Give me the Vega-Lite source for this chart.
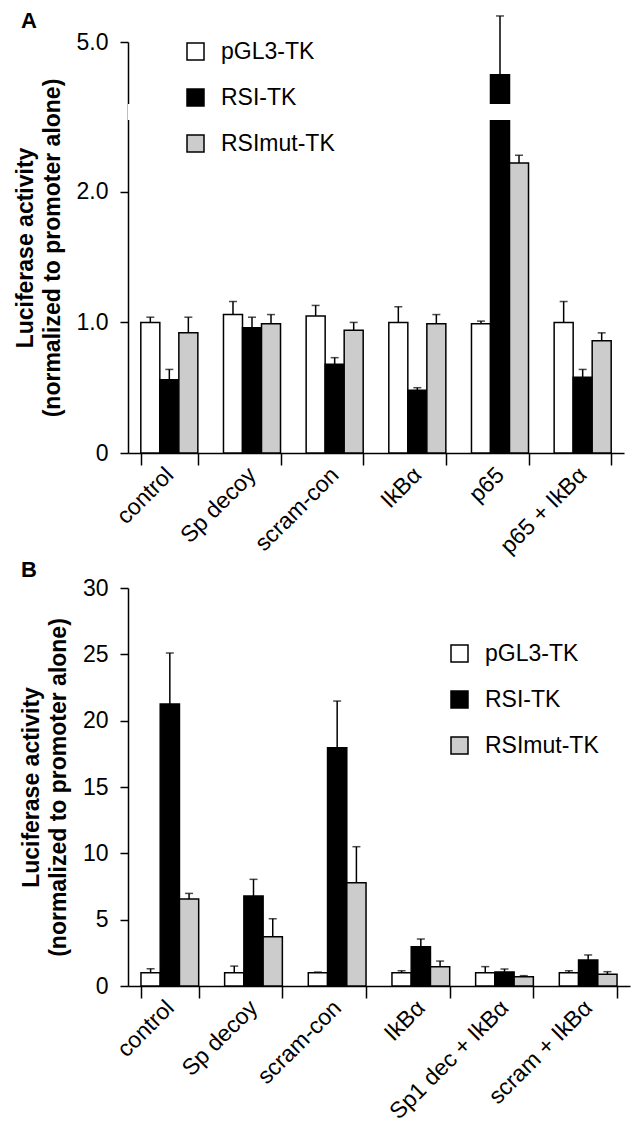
{
  "$schema": "https://vega.github.io/schema/vega-lite/v6.json",
  "padding": {"top": 10, "left": 14, "right": 5, "bottom": 5},
  "background": "white",
  "config": {
    "font": "Liberation Sans",
    "view": {"stroke": null},
    "axis": {
      "labelFont": "Liberation Sans", "labelFontSize": 23, "labelColor": "black",
      "titleFont": "Liberation Sans", "titleFontSize": 23, "titleColor": "black", "titleFontWeight": "bold",
      "domainColor": "black", "tickColor": "black", "domainWidth": 1.5, "tickWidth": 1.5, "grid": false
    },
    "legend": {
      "labelFont": "Liberation Sans", "labelFontSize": 23, "labelColor": "black",
      "symbolType": "square", "symbolSize": 289, "symbolStrokeColor": "black", "symbolStrokeWidth": 1.5,
      "rowPadding": 22, "labelOffset": 14, "padding": 0
    },
    "title": {"font": "Liberation Sans", "fontSize": 22, "fontWeight": "bold", "color": "black", "anchor": "start", "frame": "group"}
  },
  "datasets": {
    "a": [
      {"cond": "control", "series": "pGL3-TK", "value": 1.0, "hi": 1.04},
      {"cond": "control", "series": "RSI-TK", "value": 0.56, "hi": 0.64},
      {"cond": "control", "series": "RSImut-TK", "value": 0.92, "hi": 1.04},
      {"cond": "Sp decoy", "series": "pGL3-TK", "value": 1.06, "hi": 1.16},
      {"cond": "Sp decoy", "series": "RSI-TK", "value": 0.96, "hi": 1.04},
      {"cond": "Sp decoy", "series": "RSImut-TK", "value": 0.99, "hi": 1.06},
      {"cond": "scram-con", "series": "pGL3-TK", "value": 1.05, "hi": 1.13},
      {"cond": "scram-con", "series": "RSI-TK", "value": 0.68, "hi": 0.73},
      {"cond": "scram-con", "series": "RSImut-TK", "value": 0.94, "hi": 1.0},
      {"cond": "IkBα", "series": "pGL3-TK", "value": 1.0, "hi": 1.12},
      {"cond": "IkBα", "series": "RSI-TK", "value": 0.48, "hi": 0.5},
      {"cond": "IkBα", "series": "RSImut-TK", "value": 0.99, "hi": 1.06},
      {"cond": "p65", "series": "pGL3-TK", "value": 0.99, "hi": 1.01},
      {"cond": "p65", "series": "RSI-TK", "value": 3.94, "hi": 5.84},
      {"cond": "p65", "series": "RSImut-TK", "value": 2.22, "hi": 2.28},
      {"cond": "p65 + IkBα", "series": "pGL3-TK", "value": 1.0, "hi": 1.16},
      {"cond": "p65 + IkBα", "series": "RSI-TK", "value": 0.58, "hi": 0.64},
      {"cond": "p65 + IkBα", "series": "RSImut-TK", "value": 0.86, "hi": 0.92}
    ],
    "b": [
      {"cond": "control", "series": "pGL3-TK", "value": 1.0, "hi": 1.3},
      {"cond": "control", "series": "RSI-TK", "value": 21.25, "hi": 25.1},
      {"cond": "control", "series": "RSImut-TK", "value": 6.56, "hi": 6.98},
      {"cond": "Sp decoy", "series": "pGL3-TK", "value": 1.0, "hi": 1.5},
      {"cond": "Sp decoy", "series": "RSI-TK", "value": 6.78, "hi": 8.04},
      {"cond": "Sp decoy", "series": "RSImut-TK", "value": 3.72, "hi": 5.07},
      {"cond": "scram-con", "series": "pGL3-TK", "value": 1.0, "hi": 1.05},
      {"cond": "scram-con", "series": "RSI-TK", "value": 17.96, "hi": 21.48},
      {"cond": "scram-con", "series": "RSImut-TK", "value": 7.79, "hi": 10.5},
      {"cond": "IkBα", "series": "pGL3-TK", "value": 1.0, "hi": 1.15},
      {"cond": "IkBα", "series": "RSI-TK", "value": 2.96, "hi": 3.54},
      {"cond": "IkBα", "series": "RSImut-TK", "value": 1.46, "hi": 1.88},
      {"cond": "Sp1 dec + IkBα", "series": "pGL3-TK", "value": 1.0, "hi": 1.46},
      {"cond": "Sp1 dec + IkBα", "series": "RSI-TK", "value": 1.06, "hi": 1.28},
      {"cond": "Sp1 dec + IkBα", "series": "RSImut-TK", "value": 0.7, "hi": 0.78},
      {"cond": "scram + IkBα", "series": "pGL3-TK", "value": 1.0, "hi": 1.15},
      {"cond": "scram + IkBα", "series": "RSI-TK", "value": 1.96, "hi": 2.34},
      {"cond": "scram + IkBα", "series": "RSImut-TK", "value": 0.88, "hi": 1.08}
    ],
    "gap": [{"lo": 2.55, "hi": 3.0}]
  },
  "spacing": 0,
  "resolve": {"scale": {"x": "independent", "y": "independent", "xOffset": "independent"}, "legend": {"color": "independent"}},
  "vconcat": [
    {
      "width": 496, "height": 411,
      "title": {"text": "A", "dx": -107, "offset": -18},
      "layer": [
        {
          "data": {"name": "a"},
          "mark": {"type": "bar", "stroke": "black", "strokeWidth": 1.5},
          "encoding": {
            "x": {"field": "cond", "type": "nominal", "sort": null,
                  "scale": {"paddingInner": 0.31, "paddingOuter": 0.155},
                  "axis": {"title": null, "labelAngle": -45, "labelAlign": "right", "labelBaseline": "middle", "tickBand": "extent", "tickSize": 12, "labelPadding": 6}},
            "xOffset": {"field": "series", "type": "nominal", "sort": null, "scale": {"paddingInner": 0, "paddingOuter": 0}},
            "y": {"field": "value", "type": "quantitative", "stack": null,
                  "scale": {"domain": [0, 2.55, 3.0, 5.0], "range": [411, 78, 62, 0], "nice": false, "zero": false},
                  "axis": {"title": ["Luciferase activity", "(normalized to promoter alone)"], "values": [0, 1, 2, 5],
                           "labelExpr": "datum.value == 0 ? '0' : format(datum.value, '.1f')",
                           "tickSize": 8, "labelPadding": 12, "titlePadding": 12, "titleLineHeight": 27}},
            "color": {"field": "series", "type": "nominal", "sort": null,
                      "scale": {"domain": ["pGL3-TK", "RSI-TK", "RSImut-TK"], "range": ["white", "black", "#cccccc"]},
                      "legend": {"title": null, "orient": "none", "legendX": 56, "legendY": -2}}
          }
        },
        {
          "data": {"name": "gap"},
          "mark": {"type": "rect", "fill": "white"},
          "encoding": {
            "y": {"field": "lo", "type": "quantitative"},
            "y2": {"field": "hi"}
          }
        },
        {
          "data": {"name": "a"},
          "mark": {"type": "rule", "color": "black", "strokeWidth": 1.5},
          "encoding": {
            "x": {"field": "cond", "type": "nominal", "sort": null},
            "xOffset": {"field": "series", "type": "nominal", "sort": null},
            "y": {"field": "value", "type": "quantitative"},
            "y2": {"field": "hi"}
          }
        },
        {
          "data": {"name": "a"},
          "mark": {"type": "tick", "color": "black", "size": 8, "thickness": 1.5, "orient": "horizontal"},
          "encoding": {
            "x": {"field": "cond", "type": "nominal", "sort": null},
            "xOffset": {"field": "series", "type": "nominal", "sort": null},
            "y": {"field": "hi", "type": "quantitative"}
          }
        }
      ]
    },
    {
      "width": 502, "height": 398,
      "title": {"text": "B", "dx": -107, "offset": -5},
      "data": {"name": "b"},
      "encoding": {
        "x": {"field": "cond", "type": "nominal", "sort": null,
              "scale": {"paddingInner": 0.31, "paddingOuter": 0.155},
              "axis": {"title": null, "labelAngle": -45, "labelAlign": "right", "labelBaseline": "middle", "tickBand": "extent", "tickSize": 12, "labelPadding": 6}},
        "xOffset": {"field": "series", "type": "nominal", "sort": null, "scale": {"paddingInner": 0, "paddingOuter": 0}}
      },
      "layer": [
        {
          "mark": {"type": "bar", "stroke": "black", "strokeWidth": 1.5},
          "encoding": {
            "y": {"field": "value", "type": "quantitative", "stack": null,
                  "scale": {"domain": [0, 30], "nice": false},
                  "axis": {"title": ["Luciferase activity", "(normalized to promoter alone)"], "values": [0, 5, 10, 15, 20, 25, 30],
                           "tickSize": 8, "labelPadding": 12, "titlePadding": 12, "titleLineHeight": 27}},
            "color": {"field": "series", "type": "nominal", "sort": null,
                      "scale": {"domain": ["pGL3-TK", "RSI-TK", "RSImut-TK"], "range": ["white", "black", "#cccccc"]},
                      "legend": {"title": null, "orient": "none", "legendX": 320, "legendY": 54}}
          }
        },
        {
          "mark": {"type": "rule", "color": "black", "strokeWidth": 1.5},
          "encoding": {
            "y": {"field": "value", "type": "quantitative"},
            "y2": {"field": "hi"}
          }
        },
        {
          "mark": {"type": "tick", "color": "black", "size": 8, "thickness": 1.5, "orient": "horizontal"},
          "encoding": {
            "y": {"field": "hi", "type": "quantitative"}
          }
        }
      ]
    }
  ]
}
